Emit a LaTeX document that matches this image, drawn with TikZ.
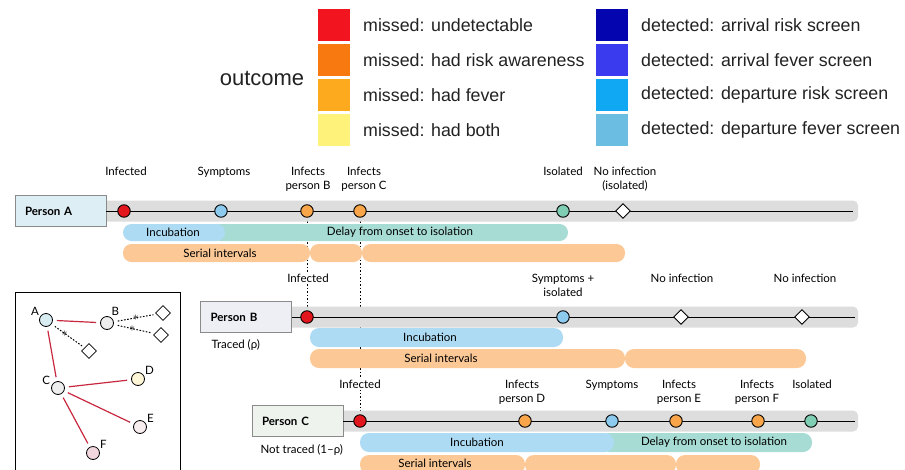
\documentclass[tikz,border=0pt]{standalone}
\usepackage{fontspec}
\setmainfont{Lato}
\newfontfamily\legfont{Liberation Sans}
\usetikzlibrary{shapes.geometric}
\pgfdeclarelayer{background}
\pgfsetlayers{background,main}

\definecolor{mRed}{HTML}{F2141E}
\definecolor{mOrange}{HTML}{F7790F}
\definecolor{mAmber}{HTML}{FDAA1E}
\definecolor{mYellow}{HTML}{FFF27A}
\definecolor{dNavy}{HTML}{0505B0}
\definecolor{dBlue}{HTML}{3A3AEF}
\definecolor{dSky}{HTML}{10A8F2}
\definecolor{dPale}{HTML}{6CBDE2}
\definecolor{keytext}{HTML}{222222}
\definecolor{evRed}{HTML}{E3161D}
\definecolor{evBlue}{HTML}{8DCBEE}
\definecolor{evOrange}{HTML}{F9A54A}
\definecolor{evGreen}{HTML}{7FCDB3}
\definecolor{barBlue}{HTML}{AEDBF4}
\definecolor{barTeal}{HTML}{A6DCD3}
\definecolor{barOrange}{HTML}{FBC896}
\definecolor{bandgray}{HTML}{DDDDDD}
\definecolor{boxA}{HTML}{DDEEF4}
\definecolor{boxB}{HTML}{EDEFF4}
\definecolor{boxC}{HTML}{EEF3EE}
\definecolor{boxedge}{HTML}{8A8A8A}
\definecolor{netred}{HTML}{C8283F}
\definecolor{netA}{HTML}{D8EDF2}
\definecolor{netB}{HTML}{EEEEEE}
\definecolor{netD}{HTML}{FFF6D8}
\definecolor{netE}{HTML}{F8EDEF}
\definecolor{netF}{HTML}{F2D8DE}

\begin{document}
\begin{tikzpicture}[x=1pt,y=-1pt,
  tl/.style={font=\fontsize{11.5}{13.5}\selectfont},
  lbl/.style={tl, align=center, anchor=north, inner sep=1pt, fill=white},
  evt/.style={circle, draw=black, line width=0.9pt, minimum size=12.5pt, inner sep=0pt},
  noinf/.style={diamond, draw=black, fill=white, line width=0.9pt, minimum size=15pt, inner sep=0pt},
  pbox/.style={draw=boxedge, line width=0.7pt, minimum height=31pt, text width=71pt, inner xsep=10pt, align=left, font=\bfseries\fontsize{11.5}{13.5}\selectfont},
  key/.style={minimum size=32pt, inner sep=0pt},
  keytxt/.style={anchor=west, inner sep=0pt, text=keytext, font=\legfont\fontsize{17.8}{20}\selectfont},
  netnode/.style={circle, draw=black, line width=0.8pt, minimum size=13pt, inner sep=0pt},
  netdia/.style={diamond, draw=black, fill=white, line width=0.8pt, minimum size=15pt, inner sep=0pt},
  netedge/.style={draw=netred, line width=1.2pt, shorten <=4pt, shorten >=4pt},
  trace/.style={dash pattern=on 1.6pt off 1.6pt, line width=1pt, shorten <=4pt, shorten >=3pt},
  astk/.style={inner sep=0pt, font=\large},
  tline/.style={line width=0.8pt},
  infline/.style={dash pattern=on 1.5pt off 2pt, line width=0.9pt}
]
\useasboundingbox (0,0) rectangle (905,469);

% legend
\node[tl, font=\legfont\fontsize{22}{24}\selectfont, text=keytext] (outc) at (262,78) {outcome};
\node[key, fill=mRed] (kRed) at (334,25) {};
\node[key, fill=mOrange] (kOrange) at (334,60) {};
\node[key, fill=mAmber] (kAmber) at (334,95) {};
\node[key, fill=mYellow] (kYellow) at (334,130) {};
\node[keytxt] (tRed) at (363,25) {missed: undetectable};
\node[keytxt] (tOrange) at (363,60) {missed: had risk awareness};
\node[keytxt] (tAmber) at (363,95) {missed: had fever};
\node[keytxt] (tYellow) at (363,130) {missed: had both};
\node[key, fill=dNavy] (kNavy) at (612,25) {};
\node[key, fill=dBlue] (kBlue) at (612,60) {};
\node[key, fill=dSky] (kSky) at (612,95) {};
\node[key, fill=dPale] (kPale) at (612,130) {};
\node[keytxt] (tNavy) at (641,25) {detected: arrival risk screen};
\node[keytxt] (tBlue) at (641,60) {detected: arrival fever screen};
\node[keytxt] (tSky) at (641,95) {detected: departure risk screen};
\node[keytxt] (tPale) at (641,130) {detected: departure fever screen};

% person A
\node[pbox, fill=boxA] (pA) at (60.5,211) {Person A};
\coordinate (aEnd) at (853,211);
\draw[tline] (pA) -- (aEnd);
\node[evt, fill=evRed] (aInf) at (124,211) {};
\node[evt, fill=evBlue] (aSym) at (221,211) {};
\node[evt, fill=evOrange] (aB) at (307,211) {};
\node[evt, fill=evOrange] (aC) at (360,211) {};
\node[evt, fill=evGreen] (aIso) at (563,211) {};
\node[noinf] (aNo) at (623,211) {};
\node[lbl] (laInf) at (126,166) {Infected};
\node[lbl] (laSym) at (224,166) {Symptoms};
\node[lbl] (laB) at (308,166) {Infects\\person B};
\node[lbl] (laC) at (364,166) {Infects\\person C};
\node[lbl] (laIso) at (563,166) {Isolated};
\node[lbl] (laNo) at (625,166) {No infection\\(isolated)};

% person B
\node[pbox, fill=boxB] (pB) at (246,317) {Person B};
\node[tl, anchor=west] (trB) at (208,345) {Traced (ρ)};
\coordinate (bEnd) at (855,317);
\draw[tline] (pB) -- (bEnd);
\node[evt, fill=evRed] (bInf) at (307,317) {};
\node[evt, fill=evBlue] (bSym) at (563,317) {};
\node[noinf] (bNo1) at (681,317) {};
\node[noinf] (bNo2) at (802,317) {};
\node[lbl] (lbInf) at (308,273) {Infected};
\node[lbl] (lbSym) at (563,273) {Symptoms +\\isolated};
\node[lbl] (lbNo1) at (682,273) {No infection};
\node[lbl] (lbNo2) at (805,273) {No infection};

% person C
\node[pbox, fill=boxC] (pC) at (297.5,421) {Person C};
\node[tl, anchor=west] (ntC) at (257,450) {Not traced (1–ρ)};
\coordinate (cEnd) at (855,421);
\draw[tline] (pC) -- (cEnd);
\node[evt, fill=evRed] (cInf) at (360,421) {};
\node[evt, fill=evOrange] (cD) at (525,421) {};
\node[evt, fill=evBlue] (cSym) at (612,421) {};
\node[evt, fill=evOrange] (cE) at (676,421) {};
\node[evt, fill=evOrange] (cF) at (758,421) {};
\node[evt, fill=evGreen] (cIso) at (811,421) {};
\node[lbl] (lcInf) at (360,379) {Infected};
\node[lbl] (lcD) at (522,379) {Infects\\person D};
\node[lbl] (lcSym) at (612,379) {Symptoms};
\node[lbl] (lcE) at (679,379) {Infects\\person E};
\node[lbl] (lcF) at (757,379) {Infects\\person F};
\node[lbl] (lcIso) at (812,379) {Isolated};

% bar labels
\node[tl] (iA) at (173,232) {Incubation};
\node[tl] (dA) at (400,232) {Delay from onset to isolation};
\node[tl] (sA) at (220,253) {Serial intervals};
\node[tl] (iB) at (430,337) {Incubation};
\node[tl] (sB) at (441,358) {Serial intervals};
\node[tl] (iC) at (477,442) {Incubation};
\node[tl] (dC) at (714,442) {Delay from onset to isolation};
\node[tl] (sC) at (435,463) {Serial intervals};

\begin{pgfonlayer}{background}
\draw[infline] (aB) -- (bInf);
\draw[infline] (aC) -- (cInf);
\fill[bandgray, rounded corners=5pt] (100,200.5) rectangle (858,221.5);
\fill[bandgray, rounded corners=5pt] (286,306.5) rectangle (858,327.5);
\fill[bandgray, rounded corners=5pt] (337,410.5) rectangle (858,431.5);
\fill[barTeal, rounded corners=8.5pt] (212,224) rectangle (568,241);
\fill[barBlue, rounded corners=8.5pt] (123,224) rectangle (225,241);
\fill[barOrange, rounded corners=8.5pt] (123,244) rectangle (310,262);
\fill[barOrange, rounded corners=8.5pt] (310,244) rectangle (362,262);
\fill[barOrange, rounded corners=8.5pt] (362,244) rectangle (625,262);
\fill[barBlue, rounded corners=9pt] (310,328) rectangle (563,347);
\fill[barOrange, rounded corners=9pt] (310,349) rectangle (625,368);
\fill[barOrange, rounded corners=9pt] (625,349) rectangle (806,368);
\fill[barTeal, rounded corners=9pt] (600,433) rectangle (812,452);
\fill[barBlue, rounded corners=9pt] (360,433) rectangle (614,452);
\fill[barOrange, rounded corners=9pt] (360,455) rectangle (525,474);
\fill[barOrange, rounded corners=9pt] (525,455) rectangle (676,474);
\fill[barOrange, rounded corners=9pt] (676,455) rectangle (760,474);
\end{pgfonlayer}

% contact network
\draw[line width=0.8pt] (15,470) -- (15,292) -- (180,292) -- (180,470);
\node[netnode, fill=netA, label={[tl, inner sep=1pt]150:A}] (nA) at (46,320) {};
\node[netnode, fill=netB, label={[tl, inner sep=1pt]60:B}] (nB) at (107,323) {};
\node[netnode, fill=netB, label={[tl, inner sep=1pt]165:C}] (nC) at (58,388) {};
\node[netnode, fill=netD, label={[tl, inner sep=1pt]30:D}] (nD) at (138,379) {};
\node[netnode, fill=netE, label={[tl, inner sep=1pt]30:E}] (nE) at (140,427) {};
\node[netnode, fill=netF, label={[tl, inner sep=1pt]30:F}] (nF) at (93,453) {};
\node[netdia] (dnA) at (89,351) {};
\node[netdia] (dnB1) at (163,313) {};
\node[netdia] (dnB2) at (161,335) {};
\draw[netedge] (nA) -- (nB);
\draw[netedge] (nA) -- (nC);
\draw[netedge] (nC) -- (nD);
\draw[netedge] (nC) -- (nE);
\draw[netedge] (nC) -- (nF);
\draw[trace] (nA) -- node[astk, pos=0.4] (xA) {$\ast$} (dnA);
\draw[trace] (nB) -- node[astk, pos=0.52] (xB1) {$\ast$} (dnB1);
\draw[trace] (nB) -- node[astk, pos=0.45] (xB2) {$\ast$} (dnB2);
\end{tikzpicture}
\end{document}
